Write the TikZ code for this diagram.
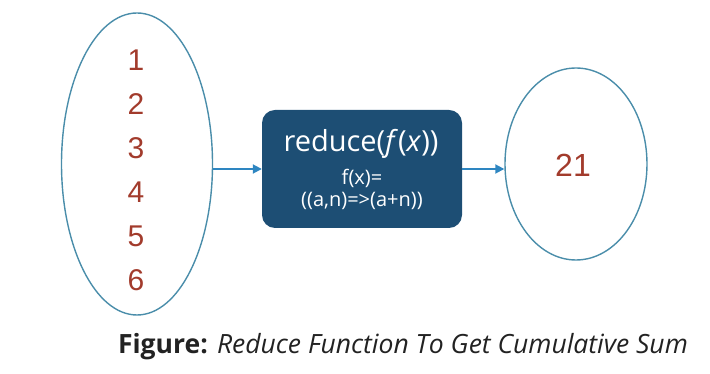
\documentclass[tikz,border=0pt]{standalone}
\usepackage{fontspec}
\setmainfont{Open Sans}
\newfontfamily\numfont{Liberation Sans}
\usetikzlibrary{shapes.geometric,arrows.meta}
\definecolor{ringblue}{HTML}{4A8DAA}
\definecolor{arrowblue}{HTML}{2E86C1}
\definecolor{boxblue}{HTML}{1D4E74}
\definecolor{numred}{HTML}{A23B2C}
\definecolor{captxt}{HTML}{222222}
\tikzset{
  ring/.style={ellipse, draw=ringblue, line width=1.4pt, inner sep=0pt},
  fnbox/.style={draw=none, fill=boxblue, rounded corners=13pt, minimum width=200pt, minimum height=118pt, inner sep=0pt},
  flow/.style={draw=arrowblue, line width=1.8pt, -{Triangle[length=9pt,width=9pt]}},
  numtxt/.style={text=numred, font=\numfont\fontsize{30}{44}\selectfont, align=center},
}
\begin{document}
\begin{tikzpicture}[x=1pt,y=1pt]
\useasboundingbox (0,0) rectangle (710,374);
\node[ring, minimum width=151pt, minimum height=302pt] (left) at (137,210) {};
\node[numtxt] (nums) at (136,204) {1\\2\\3\\4\\5\\6};
\node[fnbox] (box) at (362,205) {};
\node[text=white, font=\fontsize{29}{34}\selectfont] (t1) at (361,230) {reduce(\textit{f}(\textit{x}))};
\node[text=white, font=\fontsize{20}{24}\selectfont] (t2) at (362,196) {f(x)=};
\node[text=white, font=\fontsize{20}{24}\selectfont] (t3) at (362,173) {((a,n)=>(a+n))};
\node[ring, minimum width=142pt, minimum height=192pt] (right) at (576,210) {};
\node[text=numred, font=\numfont\fontsize{32}{36}\selectfont] (res) at (573,209) {21};
\draw[flow] (box.west -| left.east) -- (box.west);
\draw[flow] (box.east) -- (box.east -| right.west);
\node[text=captxt, font=\fontsize{26.5}{30}\selectfont, anchor=base] (cap) at (403,20) {\textbf{Figure:} \textit{Reduce Function To Get Cumulative Sum}};
\end{tikzpicture}
\end{document}
